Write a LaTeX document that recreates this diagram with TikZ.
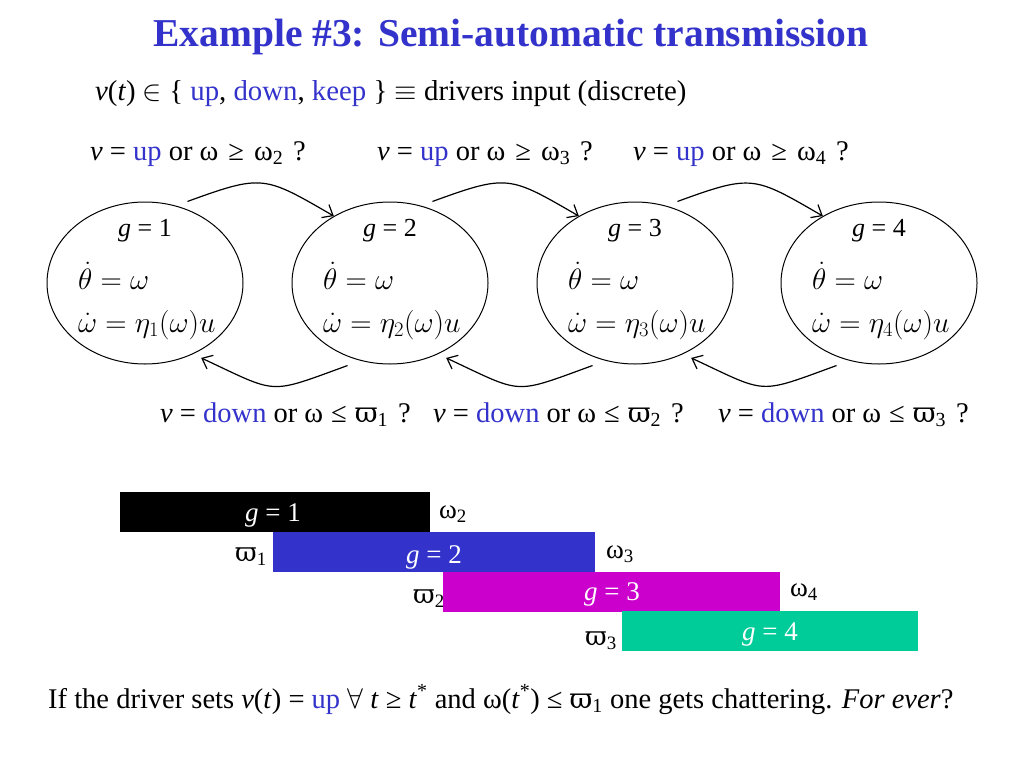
\RequirePackage{fix-cm}
\documentclass[tikz,border=0pt]{standalone}
\usepackage{fontspec}
\setmainfont{Liberation Serif}
\newfontfamily\dvs[Scale=0.98]{DejaVu Serif}
\usetikzlibrary{shapes.geometric,arrows.meta}
\definecolor{myblue}{RGB}{51,51,204}
\definecolor{mymag}{RGB}{204,0,204}
\definecolor{mygreen}{RGB}{0,204,153}
\newcommand{\cUp}{\textcolor{myblue}{up}}
\newcommand{\cDown}{\textcolor{myblue}{down}}
\newcommand{\cKeep}{\textcolor{myblue}{keep}}
\newcommand{\vpi}{{\dvs ϖ}}
\newcommand{\wsp}{\hspace{0.35em}}
\newcommand{\dsp}{\hspace{0.28em}}
\begin{document}
\begin{tikzpicture}[x=1pt,y=-1pt,
  txt/.style={font=\fontsize{28.5}{32}\selectfont, inner sep=0, anchor=base west},
  gtxt/.style={font=\fontsize{26}{30}\selectfont, inner sep=0, anchor=base},
  eq/.style={font=\fontsize{29.5}{43}\selectfont, inner sep=0, anchor=base west, align=left},
  state/.style={ellipse, draw, line width=1pt, minimum width=196pt, minimum height=162pt, inner sep=0},
  arr/.style={line width=1.2pt, -{Straight Barb[length=9pt,width=15pt]}},
  bar/.style={minimum height=40pt, inner sep=0, anchor=north west, draw=none},
  barlbl/.style={font=\fontsize{27}{30}\selectfont, text=white, inner sep=0, anchor=base},
  thr/.style={font=\fontsize{27}{30}\selectfont, inner sep=0, anchor=base west}]
\useasboundingbox (0,0) rectangle (1024,768);
\fill[white] (0,0) rectangle (1024,768);

% title
\node[font=\bfseries\fontsize{39.5}{44}\selectfont, text=myblue, inner sep=0, anchor=base] (title) at (511,46) {Example \#3: Semi-automatic transmission};
\node[txt, font=\fontsize{28.8}{32}\selectfont] (input) at (95,100) {\textit{v}(\textit{t}) $\in$ \{ \cUp, \cDown, \cKeep\ \} $\equiv$ drivers input (discrete)};

% states
\foreach \i/\cx in {1/145,2/390,3/635,4/879}{
  \node[state] (e\i) at (\cx,283) {};
  \node[gtxt] (g\i) at (\cx,236) {\textit{g} = \i};
  \node[eq] (dyn\i) at (\cx-67,332) {$\dot\theta=\omega$\\$\dot\omega=\eta_{\i}(\omega)u$};
}

% up transitions
\node[txt] (u1) at (90,160) {\textit{v} = \cUp\ or ω\wsp≥\wsp ω\textsubscript{2}\wsp ?};
\node[txt] (u2) at (377,160) {\textit{v} = \cUp\ or ω\wsp≥\wsp ω\textsubscript{3}\wsp ?};
\node[txt] (u3) at (633,160) {\textit{v} = \cUp\ or ω\wsp≥\wsp ω\textsubscript{4}\wsp ?};
\foreach \a/\b in {1/2,2/3,3/4}{
  \draw[arr] ([yshift=8pt]e\a.60) to[out=20,in=150,looseness=1.4] (e\b.130);
  \draw[arr] ([yshift=-9pt]e\b.-120) to[out=-160,in=-25,looseness=1.5] ([yshift=-8pt]e\a.-50);
}
% down transitions
\node[txt] (d1) at (160,422) {\textit{v} = \cDown\ or ω\dsp≤\dsp\vpi\textsubscript{1}\wsp ?};
\node[txt] (d2) at (433,422) {\textit{v} = \cDown\ or ω\dsp≤\dsp\vpi\textsubscript{2}\wsp ?};
\node[txt] (d3) at (718,422) {\textit{v} = \cDown\ or ω\dsp≤\dsp\vpi\textsubscript{3}\wsp ?};

% bars
\node[bar, fill=black, minimum width=310pt] (b1) at (120,492) {};
\node[bar, fill=myblue, minimum width=322pt] (b2) at (273,532) {};
\node[bar, fill=mymag, minimum width=337pt] (b3) at (443,572) {};
\node[bar, fill=mygreen, minimum width=296pt] (b4) at (622,611) {};
\node[barlbl] (l1) at (273,521) {\textit{g} = 1};
\node[barlbl] (l2) at (434,563) {\textit{g} = 2};
\node[barlbl] (l3) at (612,600) {\textit{g} = 3};
\node[barlbl] (l4) at (770,640) {\textit{g} = 4};
\node[thr] (w2) at (439,518) {ω\textsubscript{2}};
\node[thr] (w3) at (606,558) {ω\textsubscript{3}};
\node[thr] (w4) at (790,596) {ω\textsubscript{4}};
\node[thr] (p1) at (235,561) {\vpi\textsubscript{1}};
\node[thr] (p2) at (413,603) {\vpi\textsubscript{2}};
\node[thr] (p3) at (585,645) {\vpi\textsubscript{3}};

% bottom line
\node[txt] (last) at (48,708) {If the driver sets \textit{v}(\textit{t}) = \cUp\ $\forall$ \textit{t} ≥ \textit{t}\textsuperscript{*} and ω(\textit{t}\textsuperscript{*}) ≤ \vpi\textsubscript{1} one gets chattering. \textit{For ever}?};
\end{tikzpicture}
\end{document}
